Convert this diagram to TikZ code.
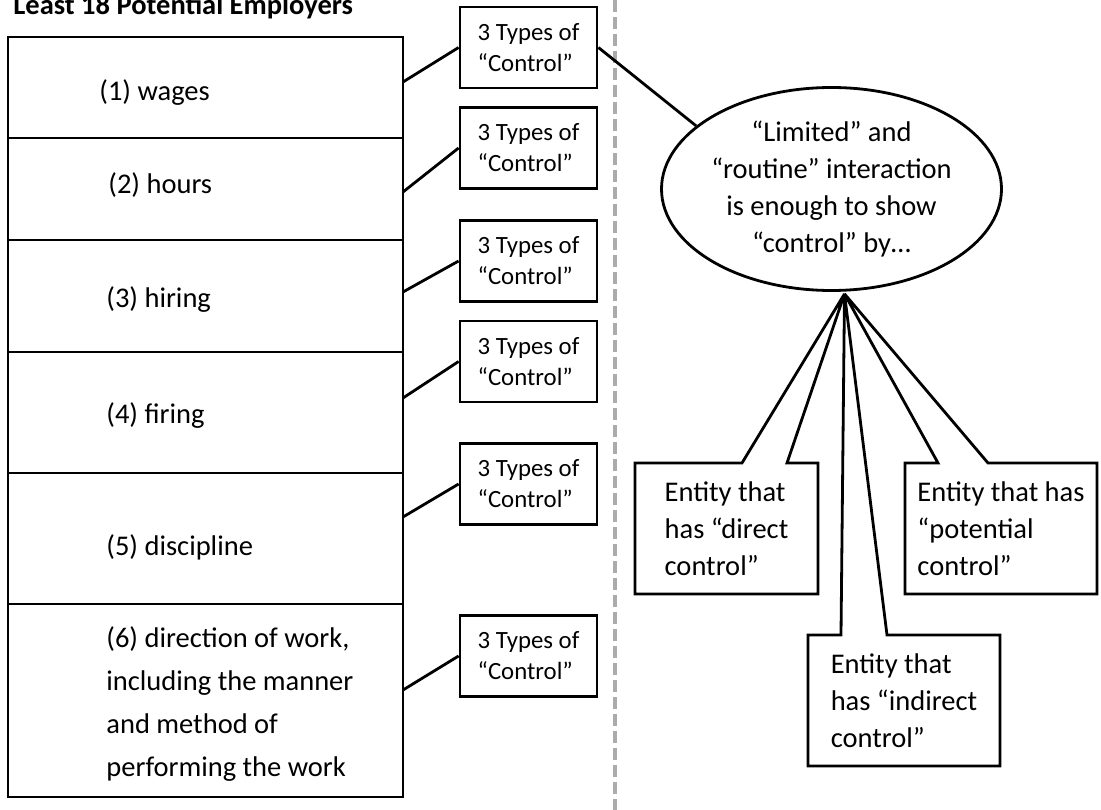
\documentclass[tikz,border=0pt]{standalone}
\usepackage{fontspec}
\setmainfont{Carlito}
\usetikzlibrary{positioning, shapes.geometric}

\begin{document}
\begin{tikzpicture}[
    x=1pt, y=-1pt,
    line width=2.8pt,
    cell/.style={
        draw,
        minimum width=395pt,
        inner sep=0pt,
        outer sep=0pt
    },
    celltext/.style={
        align=left,
        inner sep=0pt,
        font=\fontsize{28.5}{37}\selectfont
    },
    typebox/.style={
        draw,
        align=left,
        inner sep=0pt,
        minimum width=137pt,
        minimum height=81pt,
        font=\fontsize{24.8}{31}\selectfont
    },
    bubble/.style={
        draw,
        ellipse,
        inner sep=0pt,
        minimum width=338pt,
        minimum height=203pt,
        align=center,
        font=\fontsize{28.5}{37}\selectfont
    },
    entity/.style={
        align=left,
        inner sep=0pt,
        outer sep=0pt,
        minimum height=131pt,
        font=\fontsize{28.5}{37}\selectfont
    },
    callout/.style={draw, line join=miter, miter limit=2},
    divider/.style={draw=black!33, line width=3.5pt, dash pattern=on 12pt off 5pt}
]
\useasboundingbox (0,0) rectangle (1101,810);

% Title (cut off at the top)
\node[anchor=base west, inner sep=0pt, font=\fontsize{28.5}{37}\selectfont\bfseries] (title) at (12,15) {Least 18 Potential Employers};

% Factors
\node[cell, minimum height=101pt] (wages) at (205.5,87.5) {};
\node[cell, minimum height=102pt, below=0pt of wages] (hours) {};
\node[cell, minimum height=112pt, below=0pt of hours] (hiring) {};
\node[cell, minimum height=121pt, below=0pt of hiring] (firing) {};
\node[cell, minimum height=131pt, below=0pt of firing] (discipline) {};
\node[cell, minimum height=193pt, below=0pt of discipline] (direction) {};

\node[celltext, right=90pt of wages.west, yshift=-5pt] (wagestext) {(1) wages};
\node[celltext, right=99pt of hours.west, yshift=4pt] (hourstext) {(2) hours};
\node[celltext, right=97pt of hiring.west, yshift=-4pt] (hiringtext) {(3) hiring};
\node[celltext, right=97pt of firing.west, yshift=-3pt] (firingtext) {(4) firing};
\node[celltext, right=97pt of discipline.west, yshift=-9pt] (disciplinetext) {(5) discipline};
\node[celltext, font=\fontsize{28.5}{43}\selectfont, right=97pt of direction.west, yshift=-4pt] (directiontext) {(6) direction of work,\\including the manner\\and method of\\performing the work};

% Types of control
\node[typebox] (type1) at (528.5,47.5) {3 Types of\\“Control”};
\node[typebox] (type2) at (528.5,148) {3 Types of\\“Control”};
\node[typebox] (type3) at (528.5,261) {3 Types of\\“Control”};
\node[typebox] (type4) at (528.5,361.5) {3 Types of\\“Control”};
\node[typebox] (type5) at (528.5,484) {3 Types of\\“Control”};
\node[typebox] (type6) at (528.5,656) {3 Types of\\“Control”};

\draw ([yshift=5.5pt]wages.east) -- (type1.west);
\draw ([yshift=-3pt]hours.east) -- (type2.west);
\draw ([yshift=4pt]hiring.east) -- (type3.west);
\draw ([yshift=14.5pt]firing.east) -- (type4.west);
\draw ([yshift=21.5pt]discipline.east) -- (type5.west);
\draw ([yshift=10.5pt]direction.east) -- (type6.west);

% Divider
\draw[divider] (615,0) -- (615,810);

% Interaction
\node[bubble] (limited) at (831.5,189) {“Limited” and\\“routine” interaction\\is enough to show\\“control” by…};
\draw (type1.east) -- (limited.155);
\coordinate (tip) at ([xshift=13pt, yshift=-2pt]limited.south);

% Entities
\node[entity, minimum width=183pt] (directctl) at (726.5,528.5) {Entity that\\has “direct\\control”};
\node[entity, minimum width=192pt] (indirectctl) at (904,700.5) {Entity that\\has “indirect\\control”};
\node[entity, minimum width=192pt] (potentialctl) at (1001,528.5) {Entity that has\\“potential\\control”};

\draw[callout] (directctl.north west) -- ([xshift=107pt]directctl.north west) -- (tip)
    -- ([xshift=152pt]directctl.north west) -- (directctl.north east)
    -- (directctl.south east) -- (directctl.south west) -- cycle;
\draw[callout] (indirectctl.north west) -- ([xshift=33pt]indirectctl.north west) -- (tip)
    -- ([xshift=79pt]indirectctl.north west) -- (indirectctl.north east)
    -- (indirectctl.south east) -- (indirectctl.south west) -- cycle;
\draw[callout] (potentialctl.north west) -- ([xshift=33pt]potentialctl.north west) -- (tip)
    -- ([xshift=83pt]potentialctl.north west) -- (potentialctl.north east)
    -- (potentialctl.south east) -- (potentialctl.south west) -- cycle;

\end{tikzpicture}
\end{document}
